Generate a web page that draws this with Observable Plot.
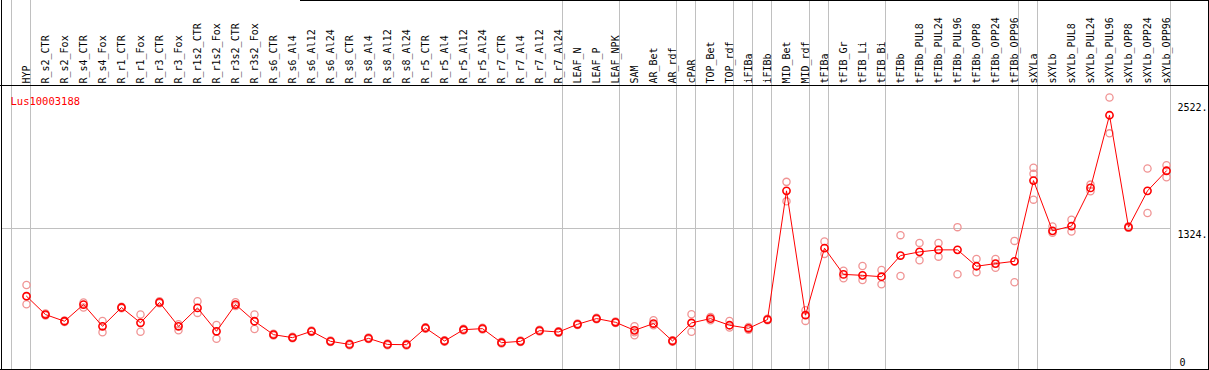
<!DOCTYPE html>
<html><head><meta charset="utf-8">
<script src="https://cdn.jsdelivr.net/npm/d3@7"></script>
<script src="https://cdn.jsdelivr.net/npm/@observablehq/plot@0.6"></script>
<style>body{margin:0;background:#fff} #chart svg{display:block}</style>
</head><body><div id="chart"></div>
<script>
const geneId = "Lus10003188";
const categories = ["HYP","R_s2_CTR","R_s2_Fox","R_s4_CTR","R_s4_Fox","R_r1_CTR","R_r1_Fox","R_r3_CTR","R_r3_Fox","R_r1s2_CTR","R_r1s2_Fox","R_r3s2_CTR","R_r3s2_Fox","R_s6_CTR","R_s6_Al4","R_s6_Al12","R_s6_Al24","R_s8_CTR","R_s8_Al4","R_s8_Al12","R_s8_Al24","R_r5_CTR","R_r5_Al4","R_r5_Al12","R_r5_Al24","R_r7_CTR","R_r7_Al4","R_r7_Al12","R_r7_Al24","LEAF_N","LEAF_P","LEAF_NPK","SAM","AR_Bet","AR_rdf","cPAR","TOP_Bet","TOP_rdf","iFIBa","iFIBb","MID_Bet","MID_rdf","tFIBa","tFIB_Gr","tFIB_Li","tFIB_Bi","tFIBb","tFIBb_PUL8","tFIBb_PUL24","tFIBb_PUL96","tFIBb_OPP8","tFIBb_OPP24","tFIBb_OPP96","sXYLa","sXYLb","sXYLb_PUL8","sXYLb_PUL24","sXYLb_PUL96","sXYLb_OPP8","sXYLb_OPP24","sXYLb_OPP96"];
const means = [684,510,447,605,399,577,432,625,399,573,352,605,447,320,292,352,257,228,285,228,225,383,260,367,377,244,257,358,345,418,472,437,361,425,260,431,472,409,380,463,1680,504,1138,890,881,868,1068,1103,1122,1122,967,992,1014,1777,1302,1347,1708,2395,1337,1680,1870];
const repHigh = [789,520,455,625,450,585,510,635,418,637,412,627,510,328,300,360,265,236,293,236,233,391,268,375,385,252,265,366,353,426,480,445,399,456,268,513,487,450,393,471,1765,551,1201,925,970,932,1261,1188,1188,1337,1036,1036,1207,1898,1343,1407,1739,2563,1345,1891,1923];
const repLow = [608,502,440,577,342,570,348,617,361,526,282,590,374,313,285,345,250,221,278,221,218,376,253,360,370,237,250,351,338,411,465,430,314,409,252,348,456,387,367,456,1581,450,1084,853,837,796,875,1024,1058,891,910,953,815,1597,1283,1296,1676,2224,1330,1470,1809];
const repExtra = [null,null,null,null,null,null,null,null,null,null,null,null,null,null,null,null,null,null,null,null,null,null,null,null,null,null,null,null,null,null,null,null,342,null,null,null,null,null,null,null,null,null,null,null,null,null,null,null,null,null,null,null,null,1841,null,null,null,null,null,null,null];
const groupEnds = [-1,0,28,31,34,35,37,38,39,41,42,45,52,53,60];
const yTicks = [2522, 1324];
const yZero = [0];

const data = categories.map((c, i) => ({i, c, mean: means[i]}));
const reps = [];
categories.forEach((c, i) => {
  [repHigh[i], repLow[i], repExtra[i]].forEach(v => { if (v != null) reps.push({i, v}); });
});

const W = 1209, H = 370;
const plot = Plot.plot({
  width: W, height: H,
  marginTop: 86, marginBottom: 2, marginLeft: 1, marginRight: 39,
  x: {type: "linear", domain: [-25/19, 1144/19], axis: null},
  y: {type: "linear", domain: [0, 2667], axis: null},
  style: {fontFamily: "'DejaVu Sans Mono', monospace", fontSize: "10px", background: "white", color: "black"},
  marks: [
    Plot.ruleX(groupEnds, {x: d => d + 4/19, y1: 3600, y2: -30, stroke: "#c0c0c0", strokeWidth: 1}),
    Plot.ruleY([1324], {stroke: "#c0c0c0", strokeWidth: 1}),
    Plot.text(data, {x: "i", text: "c", frameAnchor: "top", dx: -4, dy: -3, rotate: -90, textAnchor: "start", fill: "black", fontSize: 10}),
    Plot.text([geneId], {frameAnchor: "top-left", dx: 9, dy: 11, text: d => d, fill: "red", textAnchor: "start", fontSize: 10.5}),
    Plot.text(yTicks, {y: d => d, text: d => d + ".", frameAnchor: "right", dx: 37, dy: 2, textAnchor: "end", lineAnchor: "top", fill: "black"}),
    Plot.text(yZero, {y: d => d, text: d => String(d), frameAnchor: "right", dx: 9, dy: -3, textAnchor: "start", lineAnchor: "bottom", fill: "black"}),
    Plot.dot(reps, {x: "i", y: "v", r: 3.6, stroke: "#f09494", strokeWidth: 1.3, fill: "none"}),
    Plot.line(data, {x: "i", y: "mean", stroke: "#ff0000", strokeWidth: 1}),
    Plot.dot(data, {x: "i", y: "mean", r: 3.6, stroke: "#ff0000", strokeWidth: 1.6, fill: "none"})
  ]
});
document.getElementById("chart").appendChild(plot);

// frame lines around the whole figure
const svg = d3.select(plot);
const frame = svg.append("g").attr("stroke", "black").attr("stroke-width", 1).attr("shape-rendering", "crispEdges");
frame.append("line").attr("x1", 1.5).attr("x2", 1.5).attr("y1", 0).attr("y2", H);
frame.append("line").attr("x1", W - 0.5).attr("x2", W - 0.5).attr("y1", 0).attr("y2", H);
frame.append("line").attr("x1", 0).attr("x2", W).attr("y1", H - 0.5).attr("y2", H - 0.5);
frame.append("line").attr("x1", 0).attr("x2", W).attr("y1", 85.5).attr("y2", 85.5);
frame.append("line").attr("x1", 300).attr("x2", W).attr("y1", 0.5).attr("y2", 0.5);
</script>
</body></html>
